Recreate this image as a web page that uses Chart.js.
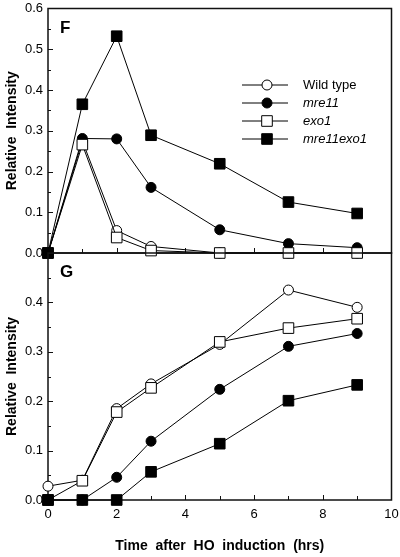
<!DOCTYPE html>
<html>
<head>
<meta charset="utf-8">
<script src="https://cdn.jsdelivr.net/npm/chart.js@4.4.1/dist/chart.umd.min.js"></script>
<style>
  html, body { margin: 0; padding: 0; background: #fff; }
  #wrap { position: relative; width: 400px; height: 557px; background: #fff; }
  canvas { position: absolute; left: 0; }
  #cF { top: 0; }
  #cG { top: 240px; }
</style>
</head>
<body>
<div id="wrap">
  <canvas id="cF" width="400" height="262"></canvas>
  <canvas id="cG" width="400" height="317"></canvas>
</div>
<script>
// ---- data ----
const hours = [0, 1, 2, 3, 5, 7, 9];
const seriesNames = ['Wild type', 'mre11', 'exo1', 'mre11exo1'];

// Panel F
const fWildType  = [0, 0.275, 0.055, 0.016, 0, 0, 0];
const fMre11     = [0, 0.281, 0.280, 0.161, 0.057, 0.023, 0.013];
const fExo1      = [0, 0.266, 0.038, 0.006, 0, 0, 0];
const fMre11Exo1 = [0, 0.365, 0.532, 0.289, 0.219, 0.125, 0.097];

// Panel G
const gWildType  = [0.028, 0.040, 0.185, 0.235, 0.315, 0.425, 0.390];
const gMre11     = [0, 0, 0.046, 0.119, 0.224, 0.311, 0.337];
const gExo1      = [0, 0.039, 0.178, 0.227, 0.320, 0.348, 0.367];
const gMre11Exo1 = [0, 0, 0, 0.057, 0.114, 0.201, 0.233];

const fYTicks = [0, 0.1, 0.2, 0.3, 0.4, 0.5, 0.6];
const gYTicks = [0, 0.1, 0.2, 0.3, 0.4];
const xTicks  = [0, 2, 4, 6, 8, 10];

// ---- styles ----
const FONT = 'Arial, "Liberation Sans", Helvetica, sans-serif';
const styles = [
  { pointStyle: 'circle', radius: 5,   fill: '#ffffff', order: 4 },
  { pointStyle: 'circle', radius: 5,   fill: '#000000', order: 3 },
  { pointStyle: 'rect',   radius: 7.5, fill: '#ffffff', order: 2 },
  { pointStyle: 'rect',   radius: 7.5, fill: '#000000', order: 1 }
];

function makeDatasets(arrs) {
  return arrs.map((vals, i) => ({
    label: seriesNames[i],
    data: hours.map((h, j) => ({ x: h, y: vals[j] })),
    borderColor: '#000',
    borderWidth: 1,
    backgroundColor: styles[i].fill,
    pointStyle: styles[i].pointStyle,
    pointRadius: styles[i].radius,
    pointBackgroundColor: styles[i].fill,
    pointBorderColor: '#000',
    pointBorderWidth: 1,
    tension: 0,
    fill: false,
    clip: false,
    order: styles[i].order
  }));
}

function noPad(scale) {
  scale.paddingTop = 0; scale.paddingBottom = 0;
  scale.paddingLeft = 0; scale.paddingRight = 0;
}

// Frame + inner ticks, drawn through the scales
function framePlugin(letter) {
  return {
    id: 'frame',
    beforeDatasetsDraw(chart) {
      const { ctx, chartArea: a, scales } = chart;
      ctx.save();
      ctx.strokeStyle = '#111';
      ctx.lineWidth = 1.5;
      ctx.strokeRect(a.left, a.top, a.right - a.left, a.bottom - a.top);
      ctx.lineWidth = 1;
      const ys = scales.y;
      for (let k = 0; k <= Math.round(ys.max / 0.05); k++) {
        const v = k * 0.05;
        const py = Math.round(ys.getPixelForValue(v)) + 0.5;
        const len = (k % 2 === 0) ? 5 : 3;
        ctx.beginPath();
        ctx.moveTo(a.left, py);
        ctx.lineTo(a.left + len, py);
        ctx.stroke();
      }
      const xs = scales.x;
      for (let h = 1; h < 10; h++) {
        const px = Math.round(xs.getPixelForValue(h)) + 0.5;
        const len = (h % 2 === 0) ? 5 : 4;
        ctx.beginPath();
        ctx.moveTo(px, a.bottom);
        ctx.lineTo(px, a.bottom - len);
        ctx.stroke();
      }
      ctx.fillStyle = '#000';
      ctx.font = 'bold 17px ' + FONT;
      ctx.textAlign = 'left';
      ctx.textBaseline = 'alphabetic';
      ctx.fillText(letter, a.left + 12, a.top + 24);
      ctx.restore();
    }
  };
}

const legendPlugin = {
  id: 'customLegend',
  afterDraw(chart) {
    const { ctx, chartArea: a } = chart;
    const x0 = a.left + 194, x1 = a.left + 240, mx = a.left + 219, tx = a.left + 255;
    const yStart = a.top + 76, dy = 18;
    ctx.save();
    seriesNames.forEach((name, i) => {
      const y = yStart + i * dy;
      ctx.strokeStyle = '#000';
      ctx.lineWidth = 1;
      ctx.beginPath();
      ctx.moveTo(x0, y + 0.5);
      ctx.lineTo(x1, y + 0.5);
      ctx.stroke();
      ctx.fillStyle = styles[i].fill;
      ctx.beginPath();
      if (styles[i].pointStyle === 'circle') {
        ctx.arc(mx, y + 0.5, 5, 0, Math.PI * 2);
      } else {
        ctx.rect(mx - 5.3, y + 0.5 - 5.3, 10.6, 10.6);
      }
      ctx.fill();
      ctx.stroke();
      ctx.fillStyle = '#000';
      ctx.font = (i === 0 ? '' : 'italic ') + '13px ' + FONT;
      ctx.textAlign = 'left';
      ctx.textBaseline = 'middle';
      ctx.fillText(name, tx, y + 1);
    });
    ctx.restore();
  }
};

function yScale(maxV, tickList) {
  return {
    type: 'linear',
    min: 0,
    max: maxV,
    afterBuildTicks(scale) { scale.ticks = tickList.map(v => ({ value: v })); },
    afterFit(scale) { scale.width = 48; noPad(scale); },
    grid: { display: false, drawTicks: false },
    border: { display: false },
    ticks: {
      color: '#000',
      font: { family: FONT, size: 13 },
      padding: 5,
      callback: v => Number(v).toFixed(1)
    },
    title: {
      display: true,
      text: 'Relative  Intensity',
      color: '#000',
      font: { family: FONT, size: 14, weight: 'bold' },
      padding: { top: 4, bottom: 0 }
    }
  };
}

// ---- Panel F ----
new Chart(document.getElementById('cF'), {
  type: 'line',
  data: { datasets: makeDatasets([fWildType, fMre11, fExo1, fMre11Exo1]) },
  options: {
    responsive: false,
    animation: false,
    devicePixelRatio: 1,
    layout: { padding: { left: 0, right: 7, top: 4, bottom: 9 } },
    plugins: { legend: { display: false }, tooltip: { enabled: false } },
    scales: {
      x: { type: 'linear', min: 0, max: 10, display: false },
      y: yScale(0.6, fYTicks)
    }
  },
  plugins: [framePlugin('F'), legendPlugin]
});

// ---- Panel G ----
new Chart(document.getElementById('cG'), {
  type: 'line',
  data: { datasets: makeDatasets([gWildType, gMre11, gExo1, gMre11Exo1]) },
  options: {
    responsive: false,
    animation: false,
    devicePixelRatio: 1,
    layout: { padding: { left: 0, right: 7, top: 13, bottom: 0 } },
    plugins: { legend: { display: false }, tooltip: { enabled: false } },
    scales: {
      x: {
        type: 'linear',
        min: 0,
        max: 10,
        afterBuildTicks(scale) { scale.ticks = xTicks.map(v => ({ value: v })); },
        afterFit(scale) { scale.height = 57; noPad(scale); },
        grid: { display: false, drawTicks: false },
        border: { display: false },
        ticks: {
          color: '#000',
          font: { family: FONT, size: 13 },
          padding: 7,
          maxRotation: 0,
          callback: v => String(v)
        },
        title: {
          display: true,
          text: 'Time  after  HO  induction  (hrs)',
          color: '#000',
          font: { family: FONT, size: 14, weight: 'bold' },
          padding: { top: 0, bottom: 2 }
        }
      },
      y: yScale(0.5, gYTicks)
    }
  },
  plugins: [framePlugin('G')]
});
</script>
</body>
</html>
